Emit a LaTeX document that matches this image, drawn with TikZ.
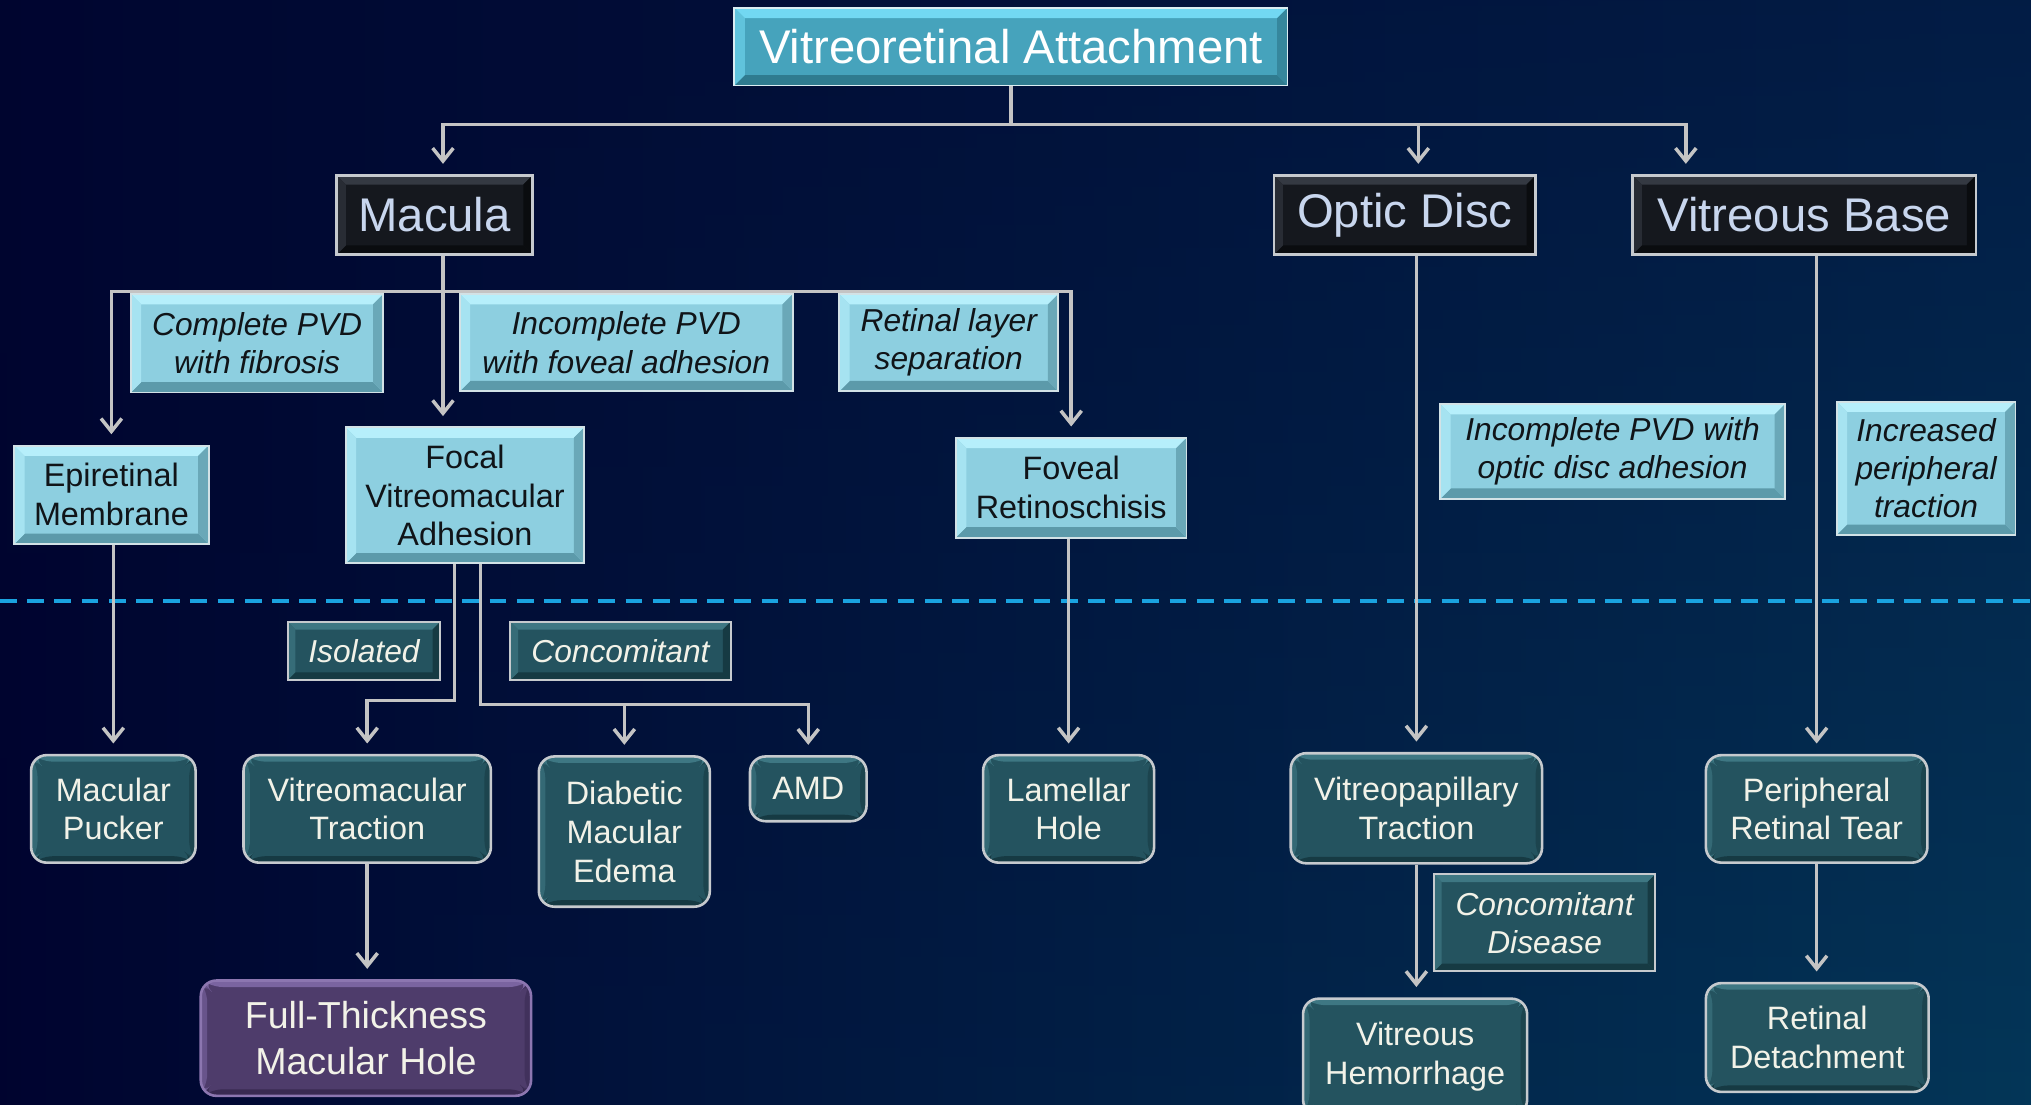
\documentclass[tikz,border=0pt]{standalone}
\usepackage{fontspec}
\setmainfont{Liberation Sans}
\usetikzlibrary{arrows.meta,calc,fadings}
\definecolor{bgTL}{HTML}{00052F}
\definecolor{bgTR}{HTML}{021C45}
\definecolor{bgBL}{HTML}{00022E}
\definecolor{bgBR}{HTML}{04395A}
\definecolor{connC}{HTML}{C4C4C4}
\definecolor{dashC}{HTML}{1AA3E0}
\definecolor{vraFill}{HTML}{46A3BC}
\definecolor{vraTop}{HTML}{72D8F2}
\definecolor{vraBot}{HTML}{2F7B8F}
\definecolor{lblFill}{HTML}{8DCFE0}
\definecolor{lblTop}{HTML}{B6EFFB}
\definecolor{lblBot}{HTML}{5C9AAA}
\definecolor{lblLeft}{HTML}{A6E3F1}
\definecolor{lblRight}{HTML}{6AA8B8}
\definecolor{lblEdge}{HTML}{D2E2E6}
\definecolor{hdrFill}{HTML}{15181E}
\definecolor{hdrTop}{HTML}{343942}
\definecolor{hdrBot}{HTML}{0A0C0F}
\definecolor{hdrText}{HTML}{C8D6EE}
\definecolor{borderC}{HTML}{C6CACE}
\definecolor{tealFill}{HTML}{24535F}
\definecolor{tealTop}{HTML}{3E7783}
\definecolor{tealBot}{HTML}{163A43}
\definecolor{purpleFill}{HTML}{4E3C6B}
\definecolor{purpleTop}{HTML}{7A64A0}
\definecolor{purpleBot}{HTML}{392a52}
\definecolor{purpleBorder}{HTML}{8C76B0}
\definecolor{txtLight}{HTML}{F2F2E8}
\definecolor{txtDark}{HTML}{101418}
\tikzset{
  bevel/.style n args={5}{path picture={
    \fill[#1] (path picture bounding box.north west) -- (path picture bounding box.north east) -- ([xshift=-#5,yshift=-#5]path picture bounding box.north east) -- ([xshift=#5,yshift=-#5]path picture bounding box.north west) -- cycle;
    \fill[#2] (path picture bounding box.south west) -- (path picture bounding box.south east) -- ([xshift=-#5,yshift=#5]path picture bounding box.south east) -- ([xshift=#5,yshift=#5]path picture bounding box.south west) -- cycle;
    \fill[#3] (path picture bounding box.north west) -- ([xshift=#5,yshift=-#5]path picture bounding box.north west) -- ([xshift=#5,yshift=#5]path picture bounding box.south west) -- (path picture bounding box.south west) -- cycle;
    \fill[#4] (path picture bounding box.north east) -- ([xshift=-#5,yshift=-#5]path picture bounding box.north east) -- ([xshift=-#5,yshift=#5]path picture bounding box.south east) -- (path picture bounding box.south east) -- cycle;
  }},
  wh/.style 2 args={minimum width=#1pt, minimum height=#2pt},
  box/.style={inner sep=0pt, align=center},
  topbox/.style={box, fill=vraFill, draw=white!80!vraFill, line width=1.5pt,
    bevel={vraTop}{vraBot}{vraTop!60!vraFill}{vraBot!70!vraFill}{8pt},
    text=white, font=\fontsize{36.5}{43}\selectfont},
  hdr/.style={box, fill=hdrFill, draw=borderC, line width=2pt,
    bevel={hdrTop}{hdrBot}{hdrTop!60!hdrFill}{hdrBot}{7pt},
    text=hdrText, font=\fontsize{36.5}{43}\selectfont},
  lbl/.style={box, fill=lblFill, draw=lblEdge, line width=1.5pt,
    bevel={lblTop}{lblBot}{lblLeft}{lblRight}{8pt},
    text=txtDark, font=\fontsize{24.5}{29.5}\selectfont\itshape},
  lbu/.style={lbl, font=\fontsize{25}{30}\selectfont},
  tlab/.style={box, fill=tealFill, draw=borderC, line width=1.5pt,
    bevel={tealTop}{tealBot}{tealTop!70!tealFill}{tealBot}{6pt},
    text=txtLight, font=\fontsize{24.5}{29.5}\selectfont\itshape},
  rbox/.style={box, rounded corners=12pt, fill=tealFill, draw=borderC, line width=2pt,
    bevel={tealTop}{tealBot}{tealTop!60!tealFill}{tealBot!60!tealFill}{5pt},
    text=txtLight, font=\fontsize{25}{30}\selectfont},
  pbox/.style={rbox, fill=purpleFill, draw=purpleBorder,
    bevel={purpleTop}{purpleBot}{purpleTop!60!purpleFill}{purpleBot!60!purpleFill}{5pt},
    font=\fontsize{29}{35}\selectfont},
  conn/.style={draw=connC, line width=2.7pt},
  arr/.style={conn, -{Straight Barb[length=10pt,width=16pt]}, shorten >=8pt},
  dashline/.style={draw=dashC, line width=2.4pt, dash pattern=on 13pt off 8pt},
}
\begin{document}
\begin{tikzpicture}[x=1pt,y=-1pt]
\useasboundingbox (0,0) rectangle (1568,853);
\begin{scope}
\clip (0,0) rectangle (1568,853);
\shade[left color=bgBL, right color=bgBR] (-40,-40) rectangle (1608,893);
\shade[left color=bgTL, right color=bgTR, path fading=south] (-40,-40) rectangle (1608,893);
\end{scope}
\draw[dashline] (0,464) -- (1568,464);

% nodes
\node[topbox, wh={427}{60}] (vra) at (780.5,36) {Vitreoretinal Attachment};
\node[hdr, wh={151}{61}] (mac) at (335.5,166) {Macula};
\node[hdr, wh={202}{61}] (od) at (1084.5,166) {Optic Disc};
\node[hdr, wh={265}{61}] (vb) at (1393,166) {Vitreous Base};

\node[lbl, wh={195}{76}] (cpvd) at (198.5,265) {Complete PVD\\with fibrosis};
\node[lbl, wh={257}{75}] (ipvd) at (483.5,264.5) {Incomplete PVD\\with foveal adhesion};
\node[lbl, wh={169}{75}] (rls) at (732.5,264.5) {Retinal layer\\separation};
\node[lbu, wh={150}{76}] (epi) at (86,382) {Epiretinal\\Membrane};
\node[lbu, wh={184}{105}] (fvma) at (359,382.5) {Focal\\Vitreomacular\\Adhesion};
\node[lbu, wh={178}{77}] (fov) at (827,376.5) {Foveal\\Retinoschisis};
\node[lbl, wh={266}{73}] (ipod) at (1245,348.5) {Incomplete PVD with\\optic disc adhesion};
\node[lbl, wh={138}{103}] (ipt) at (1487,361.5) {Increased\\peripheral\\traction};

\node[tlab, wh={118}{45}] (iso) at (281,502.5) {Isolated};
\node[tlab, wh={170}{45}] (conc) at (479,502.5) {Concomitant};

\node[rbox, wh={127}{83}] (mp) at (87.5,624.5) {Macular\\Pucker};
\node[rbox, wh={191}{83}] (vmt) at (283.5,624.5) {Vitreomacular\\Traction};
\node[rbox, wh={132}{116}] (dme) at (482,642) {Diabetic\\Macular\\Edema};
\node[rbox, wh={90}{50}] (amd) at (624,609) {AMD};
\node[rbox, wh={132}{83}] (lh) at (825,624.5) {Lamellar\\Hole};
\node[rbox, wh={194}{85}] (vpt) at (1093.5,624) {Vitreopapillary\\Traction};
\node[rbox, wh={171}{83}] (prt) at (1402.5,624.5) {Peripheral\\Retinal Tear};
\node[pbox, wh={255}{89}] (ftmh) at (282.5,801.5) {Full-Thickness\\Macular Hole};
\node[tlab, wh={171}{75}] (cd) at (1192.5,712.5) {Concomitant\\Disease};
\node[rbox, wh={173}{90}] (vh) at (1092.5,816) {Vitreous\\Hemorrhage};
\node[rbox, wh={172}{84}] (rd) at (1403,801) {Retinal\\Detachment};

% connectors
\path (vra.south) coordinate (vs);
\coordinate (tj) at (vs |- 0,96);
\draw[conn] (vra.south) -- (tj);
\draw[arr] (tj) -| ([xshift=6.5pt]mac.north);
\draw[arr] (tj) -| ([xshift=10.5pt]od.north);
\draw[arr] (tj) -| ([xshift=-91.5pt]vb.north);

\path ([xshift=6.5pt]mac.south) coordinate (macS);
\coordinate (mj) at (macS |- 0,225);
\draw[arr] (macS) -- (macS |- fvma.north);
\draw[arr] (mj) -| (epi.north);
\draw[arr] (mj) -| (fov.north);

\draw[arr] (mp.north |- epi.south) -- (mp.north);
\draw[arr] ([xshift=-8pt]fvma.south) -- ++(0,105) -| (vmt.north);
\draw[arr] ([xshift=12pt]fvma.south) -- ++(0,108) coordinate (cj) -| (amd.north);
\draw[arr] (cj -| dme.north) -- (dme.north);
\draw[arr] (lh.north |- fov.south) -- (lh.north);
\draw[arr] (vpt.north |- od.south) -- (vpt.north);
\draw[arr] (prt.north |- vb.south) -- (prt.north);

\draw[arr] (vmt.south) -- (vmt.south |- ftmh.north);
\draw[arr] (vpt.south) -- (vpt.south |- vh.north);
\draw[arr] (prt.south) -- (prt.south |- rd.north);
\end{tikzpicture}
\end{document}
